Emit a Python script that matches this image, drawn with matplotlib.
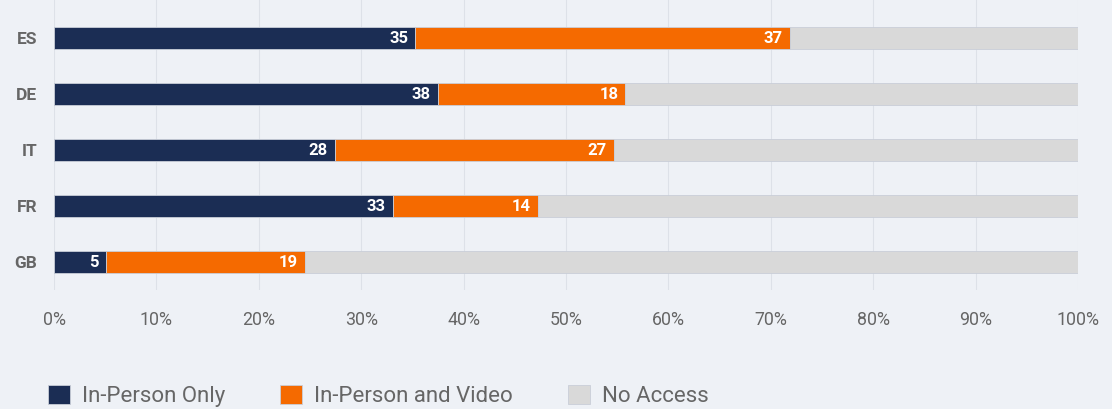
import matplotlib.pyplot as plt
import numpy as np

# data (percent of respondents)
countries = ['ES', 'DE', 'IT', 'FR', 'GB']
in_person = [35.3, 37.5, 27.4, 33.1, 5.1]
in_person_video = [36.6, 18.3, 27.3, 14.2, 19.4]
in_person_lbl = [35, 38, 28, 33, 5]
video_lbl = [37, 18, 27, 14, 19]
series_names = ['In-Person Only', 'In-Person and Video', 'No Access']

navy = '#1b2d54'
orange = '#f56a00'
grey = '#d9d9d9'
bg = '#eef1f6'

plt.rcParams['font.family'] = ['Roboto', 'DejaVu Sans']

fig = plt.figure(figsize=(11.12, 4.09), dpi=100, facecolor=bg)
ax = fig.add_axes([54/1112, 1 - 290/409, 1024/1112, 290/409], facecolor=bg)

y = np.arange(len(countries))
a = np.array(in_person)
b = np.array(in_person_video)
rest = 100 - a - b
h = 0.40

ax.barh(y, a, height=h, color=navy, edgecolor='#c9ced8', lw=0.6, label=series_names[0], zorder=3)
ax.barh(y, b, left=a, height=h, color=orange, edgecolor='#c9ced8', lw=0.6, label=series_names[1], zorder=3)
ax.barh(y, rest, left=a + b, height=h, color=grey, edgecolor='#c9ced8', lw=0.6, label=series_names[2], zorder=3)

# value labels at the right end of each coloured segment
for i in range(len(countries)):
    ax.text(a[i] - 0.7, y[i], str(in_person_lbl[i]), ha='right', va='center',
            color='white', fontsize=12, fontweight='bold', zorder=4)
    ax.text(a[i] + b[i] - 0.7, y[i], str(video_lbl[i]), ha='right', va='center',
            color='white', fontsize=12, fontweight='bold', zorder=4)

ax.set_xlim(0, 100)
ax.set_ylim(4.5, -0.68)
ax.set_xticks(np.arange(0, 101, 10))
ax.set_xticklabels([f'{v}%' for v in range(0, 101, 10)])
ax.set_yticks(y)
ax.set_yticklabels(countries)
ax.tick_params(axis='x', length=0, pad=15, labelsize=12.8, labelcolor='#666666')
ax.tick_params(axis='y', length=0, pad=12, labelsize=12.5, labelcolor='#666666')
for t in ax.get_yticklabels():
    t.set_fontweight('bold')
ax.grid(axis='x', color='#dde1e8', lw=0.8, zorder=0)
for s in ax.spines.values():
    s.set_visible(False)

fig.legend(loc='lower left', bbox_to_anchor=(39/1112, -0.017), ncol=3, frameon=False,
           fontsize=16, labelcolor='#666666', handlelength=1.0, handleheight=1.0,
           handletextpad=0.55, columnspacing=2.45, borderaxespad=0)

fig.savefig('out.png', dpi=100, facecolor=bg)
